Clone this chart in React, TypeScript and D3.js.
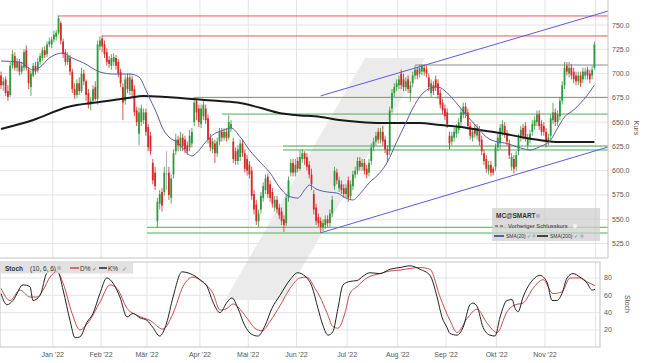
import React from "react";
import * as d3 from "d3";

// [open, high, low, close] per trading day (Dec 2021 – Nov 2022)
const candles: [number, number, number, number][] = [
  [698,702,684,688],[688,696,682,692],[694,697,677,680],[682,688,672,676],[678,712,676,708],
  [708,724,705,720],[718,722,703,706],[706,716,702,712],[712,715,698,702],[702,712,699,708],
  [706,725,703,722],[724,729,703,706],[704,707,684,690],[686,703,677,700],[698,711,696,708],
  [708,712,699,702],[703,716,701,712],[712,721,709,718],[716,727,713,724],[724,728,716,719],
  [720,733,717,730],[730,737,727,733],[730,738,726,735],[735,744,732,740],[738,745,734,742],
  [742,759,740,757],[752,754,730,734],[733,736,716,720],[722,725,708,712],[712,722,709,718],
  [716,719,698,702],[702,705,680,684],[684,690,674,678],[678,694,675,690],[690,696,678,682],
  [682,706,680,700],[700,704,688,692],[692,694,672,678],[680,684,664,668],[668,676,662,672],
  [672,688,670,684],[686,692,672,674],[674,734,668,730],[728,738,724,734],[736,739,722,728],
  [730,734,716,720],[722,726,708,712],[714,718,706,710],[708,720,704,716],[712,721,708,717],
  [716,719,704,708],[712,715,696,700],[702,705,686,690],[686,690,652,670],[672,698,668,694],
  [696,700,680,684],[682,700,678,696],[694,698,676,682],[684,688,656,660],[662,666,646,650],
  [638,665,626,660],[650,668,646,664],[652,664,648,660],[660,664,636,640],[645,648,620,624],
  [636,640,616,620],[608,612,586,590],[598,604,580,584],[548,572,541,568],[566,580,560,576],
  [578,582,558,564],[578,604,574,598],[596,620,580,597],[598,604,570,575],[572,596,566,592],
  [596,622,592,618],[620,638,616,632],[632,636,620,626],[624,640,620,634],[634,638,620,625],
  [632,636,618,622],[626,630,616,620],[624,642,620,636],[628,644,624,640],[650,676,646,670],
  [672,674,652,660],[664,668,645,650],[648,668,644,664],[656,672,652,668],[664,668,648,652],
  [654,658,628,632],[634,638,620,624],[622,634,618,630],[628,632,608,618],[618,634,614,630],
  [630,644,626,640],[640,644,630,634],[634,644,631,640],[640,644,630,634],[634,657,632,650],
  [644,652,640,648],[630,634,608,612],[620,624,606,610],[610,626,606,622],[614,632,610,628],
  [628,632,614,618],[618,622,598,602],[612,616,595,600],[606,610,592,596],[600,604,570,574],
  [576,580,555,560],[565,570,544,548],[548,560,542,556],[560,578,556,574],[572,588,568,584],
  [580,596,576,592],[594,597,572,576],[586,590,568,572],[578,582,562,566],[562,574,558,570],
  [570,574,556,560],[562,566,550,554],[558,562,544,548],[550,554,537,544],[546,576,543,572],
  [572,594,568,590],[598,612,594,608],[608,612,594,598],[598,612,594,606],[610,614,598,602],
  [602,621,600,614],[612,622,608,618],[618,620,606,612],[614,618,600,604],[606,610,592,596],
  [596,602,580,586],[576,580,555,560],[562,566,544,548],[552,556,542,546],[548,552,536,542],
  [542,550,538,546],[544,554,540,550],[550,554,542,546],[546,560,542,556],[556,574,552,570],
  [584,604,580,600],[598,602,586,590],[582,594,578,590],[586,590,576,580],[582,586,572,576],
  [576,586,572,582],[590,594,568,572],[574,590,570,586],[584,600,580,596],[596,604,592,600],
  [600,614,596,610],[610,614,600,604],[604,612,600,608],[608,612,596,600],[602,606,592,596],
  [598,612,594,608],[610,628,606,624],[624,634,620,630],[630,640,626,636],[640,644,628,632],
  [632,644,628,640],[640,646,626,630],[632,636,618,622],[622,626,609,616],[620,666,616,662],
  [664,684,660,680],[680,690,676,686],[686,694,682,690],[688,698,684,694],[700,704,684,688],
  [694,700,682,686],[686,696,682,692],[694,698,680,684],[680,692,671,688],[690,702,686,698],
  [698,708,694,704],[704,707,694,698],[700,709,696,706],[702,710,698,708],[706,709,698,702],
  [704,708,696,700],[696,700,682,686],[680,694,676,690],[688,692,678,682],[694,698,682,686],
  [690,694,674,678],[680,684,664,668],[670,674,658,662],[664,668,652,656],[660,664,644,648],
  [636,640,622,628],[630,640,626,636],[634,644,630,640],[638,648,634,644],[642,654,638,650],
  [650,664,646,660],[658,670,654,666],[666,670,654,658],[660,664,642,646],[646,650,632,636],
  [634,644,630,640],[644,648,634,638],[636,648,632,644],[642,646,626,630],[632,636,616,620],
  [618,622,606,610],[612,616,598,602],[600,610,596,606],[606,610,594,598],[602,604,595,598],
  [604,628,600,624],[624,638,620,634],[628,648,622,644],[640,652,636,648],[646,650,634,638],
  [638,642,626,630],[628,632,612,616],[604,618,600,614],[612,616,597,602],[604,620,600,616],
  [620,638,616,634],[634,646,630,642],[644,648,632,636],[646,650,630,634],[626,638,622,634],
  [632,642,628,638],[640,652,636,648],[646,656,642,652],[650,662,646,658],[658,662,642,646],
  [648,652,636,640],[646,650,636,640],[640,644,624,630],[630,638,626,634],[636,658,632,654],
  [652,670,648,660],[660,664,646,650],[650,662,646,658],[656,676,652,672],[672,692,668,688],
  [688,712,684,706],[708,712,698,702],[700,712,696,706],[706,710,694,698],[702,706,690,694],
  [698,702,688,692],[692,702,688,698],[698,702,686,690],[694,706,690,702],[698,706,694,702],
  [704,707,694,698],[700,704,690,694],[698,708,694,704],[706,733,704,730],
];

// [day index, value]
const sma20: [number, number][] = [
  [0,712.9],[8,711.9],[14,703.7],[17,706.7],[21,716],[27,721.2],[30,717],[36,710.9],[43,701.6],
  [49,699.5],[56,699.5],[60,696.4],[63,683.1],[65,672.8],[68,657.3],[70,645],[73,634.7],[77,628.5],
  [79,623.3],[83,615.1],[85,618.2],[89,629.5],[92,636.7],[97,641.9],[100,643.9],[104,634.7],
  [108,621.3],[113,607.9],[117,597.6],[121,583.2],[125,573.9],[129,571.8],[132,580.1],[134,585.2],
  [137,581.1],[142,578],[146,577],[150,571.8],[153,569.8],[156,576],[160,587.3],[165,598.6],
  [168,608.9],[172,629.5],[176,649.1],[178,659.4],[182,675.8],[187,685.1],[190,686.1],[194,680],
  [198,669.7],[203,655.3],[207,645],[211,634.7],[216,629.5],[219,628.5],[226,623.3],[230,621.3],
  [234,624.4],[239,631.6],[242,643.9],[245,655.3],[249,662.5],[252,669.7],[255,677.9],[258,688.2],
];

const sma200: [number, number][] = [
  [0,642.9],[14,652.2],[29,665.6],[43,670.7],[55,674.8],[62,676.9],[72,675.8],[83,673.8],
  [95,671.7],[104,669.7],[113,664.5],[121,659.4],[128,657.3],[139,655.3],[147,652.2],[156,650.1],
  [165,649.1],[182,649.1],[191,647],[200,645],[208,641.9],[217,638.8],[226,634.7],[234,631.6],
  [243,629.5],[258,629.5],
];

const stochK: [number, number][] = [
  [0,62],[2.6,49],[5.2,54],[9.6,72],[12.6,70],[13.9,54],[17,60],[20,86],[22.6,89],[24.8,87],
  [27,66],[30,31],[32.2,11],[34.3,12],[37.4,29],[40,39],[43,62],[46,80],[48.7,74],[51.7,58],
  [54.8,35],[57.4,39],[60.4,34],[63.5,31],[66,23],[69,13],[72,28],[74.8,58],[78.7,87],[82.2,85],
  [86.5,78],[89.6,70],[92.2,52],[95.2,40],[98.3,52],[100.4,57],[103,45],[106,25],[109,15],
  [111.7,13],[114.8,25],[117.8,45],[121.3,60],[125.7,78],[129,86],[132.2,82],[135.2,70],
  [137.8,45],[140,25],[142.2,14],[144.3,18],[146.5,45],[148.7,72],[151.7,76],[154.8,77],
  [157.4,82],[160.4,86],[164.8,85],[169.1,90],[173.5,92],[177.8,94],[182.2,90],[186.5,83],
  [189.6,58],[191.7,35],[193.9,23],[195.2,16],[198.3,14],[200.9,23],[203.9,49],[205.2,51],
  [207,47],[209.6,23],[212.6,14],[214.8,13],[217,35],[220,54],[222.2,55],[223.5,45],[224.8,41],
  [227,58],[231.3,78],[234.3,83],[237.4,75],[239.6,54],[241.7,54],[243.9,62],[246.1,80],
  [248.7,85],[251.7,81],[254.8,74],[257,66],[258.3,67],
];

const stochD: [number, number][] = [
  [0,68],[3.9,54],[8.3,66],[12.6,58],[15.7,58],[18.3,66],[21.3,81],[24.3,87],[27,74],[30.9,39],
  [34.3,20],[37.8,28],[43,52],[47.4,72],[50.4,68],[54.8,45],[59.1,37],[64.8,31],[70.4,21],
  [74.8,39],[79.1,70],[83.5,81],[87.8,75],[92.2,62],[95.2,43],[98.3,45],[100.9,50],[103.9,44],
  [107.4,32],[110.4,22],[113.5,19],[117,30],[121.3,48],[125.7,68],[130,80],[133,81],[136.5,68],
  [138.7,58],[141.7,40],[144.3,24],[146.5,22],[149.6,40],[151.7,62],[154.8,70],[159.1,80],
  [164.8,85],[169.1,88],[173.5,89],[177.8,91],[182.2,92],[186.5,90],[190.9,58],[195.2,31],
  [198.3,17],[202.6,33],[207,44],[211.3,28],[215.7,17],[220,41],[223.5,49],[227,51],[231.3,68],
  [235.7,78],[240,62],[243.9,64],[247.4,80],[251.7,80],[255.2,75],[258.3,71],
];

const priceTicks = [525, 550, 575, 600, 625, 650, 675, 700, 725, 750];
const stochTicks = [20, 40, 60, 80];
const monthLabels = ["Jan '22", "Feb '22", "Mär '22", "Apr '22", "Mai '22", "Jun '22", "Jul '22", "Aug '22", "Sep '22", "Okt '22", "Nov '22", ""];
const monthStarts = [22.5, 43.5, 63.5, 86.5, 107.5, 128.5, 150.5, 172.5, 193.5, 215.5, 236.5, 258.5];

// [price, start day index]
const redLevels: [number, number][] = [[759.3, 24.5], [738.7, 43.8]];
const greenLevels: [number, number][] = [[675.5, 84.3], [658.3, 96], [625.4, 122.6], [621.3, 122.6], [541.7, 63.5], [535.8, 63.5]];
const grayLevels: [number, number][] = [[708.8, 180]];
// channel anchors [day index, price]
const channelUpper: [number, number][] = [[139, 677], [264, 764.4]];
const channelLower: [number, number][] = [[139, 536], [264, 624.4]];

const FONT = '"Liberation Sans", Arial, sans-serif';

export default function App() {
  const W = 645, H = 363;
  const mainRight = 608, mainBottom = 258;
  const stTop = 262, stBottom = 347, stRight = 600;

  const x = d3.scaleLinear().domain([0, 258]).range([1, 594.4]);
  const y = d3.scaleLinear().domain([525, 750]).range([243.5, 25]);
  const ys = d3.scaleLinear().domain([0, 100]).range([347.3, 260.6]);

  const lineP = d3.line<[number, number]>().x(d => x(d[0])).y(d => y(d[1])).curve(d3.curveMonotoneX);
  const lineS = d3.line<[number, number]>().x(d => x(d[0])).y(d => ys(d[1])).curve(d3.curveMonotoneX);

  const green = "#2e9a3c", red = "#d42a2a", grayC = "#9a9a9a";
  const grid = "#e4e4e4";
  const lvlGreen = "#4fae5a";
  const bodyW = 1.8;

  const chanLine = (pts: [number, number][]) => {
    const [a, b] = pts;
    return <line x1={x(a[0])} y1={y(a[1])} x2={x(b[0])} y2={y(b[1])} stroke="#5a5ae6" strokeWidth={1} />;
  };

  return (
    <div style={{ position: "fixed", left: 0, top: 0 }}>
      <svg width={W} height={H} style={{ display: "block", background: "#fff", fontFamily: FONT }}>
        <defs>
          <clipPath id="mainClip"><rect x={0} y={0} width={mainRight} height={mainBottom} /></clipPath>
          <clipPath id="stClip"><rect x={0} y={stTop} width={stRight} height={stBottom - stTop} /></clipPath>
        </defs>

        {/* gridlines */}
        {priceTicks.map(t => (
          <line key={"pg" + t} x1={0} x2={mainRight} y1={y(t)} y2={y(t)} stroke={grid} strokeWidth={1} />
        ))}
        {stochTicks.map(t => (
          <line key={"sg" + t} x1={0} x2={stRight} y1={ys(t)} y2={ys(t)} stroke={grid} strokeWidth={1} />
        ))}
        {monthStarts.map((m, i) => (
          <g key={"mg" + i}>
            <line x1={x(m)} x2={x(m)} y1={0} y2={mainBottom} stroke={grid} strokeWidth={1} />
            <line x1={x(m)} x2={x(m)} y1={stTop} y2={stBottom} stroke={grid} strokeWidth={1} />
          </g>
        ))}

        {/* watermark */}
        <polygon points="225,300 283,300 425,58 365,58" fill="#ebebeb" />

        {/* main panel */}
        <g clipPath="url(#mainClip)">
          {redLevels.map(([p, s], i) => (
            <line key={"rl" + i} x1={x(s)} x2={mainRight} y1={y(p)} y2={y(p)} stroke="#e05a5a" strokeWidth={1} />
          ))}
          {grayLevels.map(([p, s], i) => (
            <line key={"gl" + i} x1={x(s)} x2={mainRight} y1={y(p)} y2={y(p)} stroke="#8a8a8a" strokeWidth={1} />
          ))}
          {greenLevels.map(([p, s], i) => (
            <line key={"grl" + i} x1={x(s)} x2={mainRight} y1={y(p)} y2={y(p)} stroke={lvlGreen} strokeWidth={1} />
          ))}
          {chanLine(channelUpper)}
          {chanLine(channelLower)}

          {candles.map(([o, h, l, c], i) => {
            const col = Math.abs(c - o) < 1.5 ? grayC : c > o ? green : red;
            const cx = x(i);
            const top = y(Math.max(o, c));
            const bot = y(Math.min(o, c));
            return (
              <g key={"c" + i}>
                <line x1={cx} x2={cx} y1={y(h)} y2={y(l)} stroke={col} strokeWidth={0.8} />
                <rect x={cx - bodyW / 2} y={top} width={bodyW} height={Math.max(1, bot - top)} fill={col} />
              </g>
            );
          })}

          <path d={lineP(sma200) || ""} fill="none" stroke="#1a1a1a" strokeWidth={2} />
          <path d={lineP(sma20) || ""} fill="none" stroke="#5b5ba8" strokeWidth={1} />
        </g>

        {/* main panel border */}
        <line x1={mainRight} x2={mainRight} y1={0} y2={mainBottom} stroke="#c4c4c4" />
        <line x1={0} x2={mainRight} y1={mainBottom} y2={mainBottom} stroke="#c4c4c4" />

        {/* price axis */}
        {priceTicks.map(t => (
          <text key={"pt" + t} x={612} y={y(t) + 2.5} fontSize={7} fill="#555">{t.toFixed(1)}</text>
        ))}
        <text transform="translate(634,128) rotate(90)" fontSize={7} fill="#555" textAnchor="middle">Kurs</text>

        {/* legend box */}
        <rect x={492} y={208} width={108} height={33} fill="#cfcfcf" fillOpacity={0.75} />
        <text x={496} y={218} fontSize={6.5} fontWeight="bold" fill="#333">MC@SMART</text>
        <circle cx={538} cy={216} r={2.2} fill="#a9b8c8" />
        <line x1={495} x2={505} y1={226} y2={226} stroke="#444" strokeDasharray="3,2" />
        <text x={508} y={228.2} fontSize={5.8} fill="#333">Vorheriger Schlusskurs</text>
        <circle cx={575} cy={226} r={2} fill="#f4f4f4" />
        <line x1={494} x2={504} y1={236} y2={236} stroke="#2a3a7a" strokeWidth={1.5} />
        <text x={506} y={238} fontSize={5} fill="#333">SMA(20) <tspan fill="#5b7bb0">✓</tspan></text>
        <circle cx={534} cy={236} r={1.7} fill="#a9b8c8" />
        <line x1={537} x2={548} y1={236} y2={236} stroke="#111" strokeWidth={1.5} />
        <text x={550} y={238} fontSize={5} fill="#333">SMA(200) <tspan fill="#5b7bb0">✓</tspan></text>
        <circle cx={582} cy={236} r={1.7} fill="#a9b8c8" />

        {/* stoch panel */}
        <g clipPath="url(#stClip)">
          <path d={lineS(stochD) || ""} fill="none" stroke="#c0504d" strokeWidth={1} />
          <path d={lineS(stochK) || ""} fill="none" stroke="#222" strokeWidth={1} />
        </g>
        <rect x={0} y={stTop} width={stRight} height={stBottom - stTop} fill="none" stroke="#c4c4c4" />

        {/* stoch header */}
        <rect x={0} y={stTop + 0.5} width={133} height={11} fill="#dcdcdc" fillOpacity={0.85} />
        <text x={5} y={270.5} fontSize={6.5} fontWeight="bold" fill="#333">Stoch</text>
        <text x={30} y={270.5} fontSize={6.5} fill="#333">(10, 6, 6)</text>
        <circle cx={59} cy={268} r={2} fill="#a9b8c8" />
        <line x1={70} x2={79} y1={268} y2={268} stroke="#c0504d" strokeWidth={1.5} />
        <text x={80} y={270.5} fontSize={6.5} fill="#333">D%</text>
        <text x={92} y={270.5} fontSize={6} fill="#5b7bb0">✓</text>
        <line x1={99} x2={107} y1={268} y2={268} stroke="#222" strokeWidth={1.5} />
        <text x={108} y={270.5} fontSize={6.5} fill="#333">K%</text>
        <text x={122} y={270.5} fontSize={6} fill="#5b7bb0">✓</text>

        {/* stoch axis */}
        {stochTicks.map(t => (
          <text key={"st" + t} x={604} y={ys(t) + 2.5} fontSize={7} fill="#555">{t}</text>
        ))}
        <text transform="translate(625,304) rotate(90)" fontSize={7} fill="#555" textAnchor="middle">Stoch</text>

        {/* date axis */}
        {monthStarts.map((m, i) => (
          <text key={"ml" + i} x={x(m)} y={357} fontSize={7} fill="#555" textAnchor="middle">{monthLabels[i]}</text>
        ))}
      </svg>
    </div>
  );
}
